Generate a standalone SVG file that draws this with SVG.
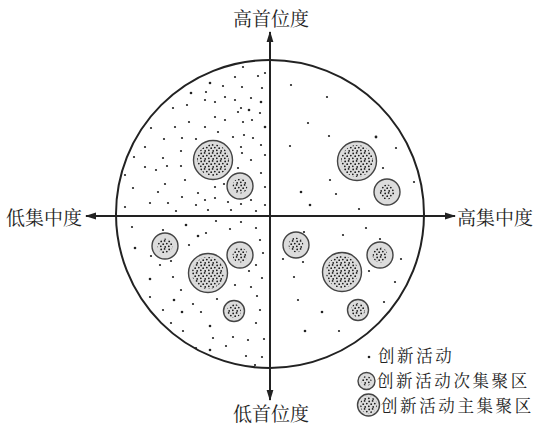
<svg xmlns="http://www.w3.org/2000/svg" width="537" height="432" viewBox="0 0 537 432">
<defs>
<style>
.lbl{font-family:"Noto Serif CJK SC","Noto Sans CJK SC",serif;font-size:19px;fill:#222}
.leg{font-family:"Noto Serif CJK SC","Noto Sans CJK SC",serif;font-size:16.5px;letter-spacing:2.6px;fill:#222}
.ax{stroke:#222;stroke-width:2;fill:none}
.clu{fill:#dcdcdc;stroke:#444;stroke-width:1.4}
.core{fill:url(#dotpat)}
#pts circle{fill:#222}
</style>
<pattern id="dotpat" patternUnits="userSpaceOnUse" width="8" height="8">
<circle cx="1.2" cy="1.4" r="0.9" fill="#1a1a1a"/>
<circle cx="4.6" cy="0.9" r="0.9" fill="#1a1a1a"/>
<circle cx="6.8" cy="3.6" r="0.9" fill="#1a1a1a"/>
<circle cx="3.2" cy="4.2" r="0.9" fill="#1a1a1a"/>
<circle cx="0.8" cy="6.3" r="0.9" fill="#1a1a1a"/>
<circle cx="5.2" cy="6.9" r="0.9" fill="#1a1a1a"/>
</pattern>
<marker id="arr" markerWidth="11" markerHeight="8" refX="10" refY="4" orient="auto-start-reverse" markerUnits="userSpaceOnUse">
<path d="M0,0.6 L11,4 L0,7.4 Z" fill="#222"/>
</marker>
</defs>
<rect width="537" height="432" fill="#fff"/>

<g id="boundary">
<circle cx="270" cy="214" r="154" fill="none" stroke="#222" stroke-width="2"/>
</g>

<g id="connectors">
<line class="ax" x1="270" y1="400" x2="270" y2="32" marker-start="url(#arr)" marker-end="url(#arr)"/>
<line class="ax" x1="86" y1="216" x2="455" y2="216" marker-start="url(#arr)" marker-end="url(#arr)"/>
</g>

<g id="pts">
<circle cx="243" cy="67" r="1.1"/><circle cx="235" cy="77" r="1.1"/><circle cx="258" cy="76" r="1.1"/><circle cx="265" cy="73" r="1.1"/>
<circle cx="210" cy="83" r="1.3"/><circle cx="223" cy="86" r="1.1"/><circle cx="242" cy="87" r="1.1"/><circle cx="191" cy="93" r="1.3"/>
<circle cx="206" cy="92" r="1.1"/><circle cx="225" cy="97" r="1.1"/><circle cx="235" cy="100" r="1.1"/><circle cx="251" cy="98" r="1.1"/>
<circle cx="261" cy="102" r="1.3"/><circle cx="262" cy="88" r="1.1"/><circle cx="205" cy="100" r="1.1"/><circle cx="173" cy="108" r="1.1"/>
<circle cx="187" cy="105" r="1.1"/><circle cx="215" cy="102" r="1.1"/><circle cx="241" cy="108" r="1.1"/><circle cx="249" cy="110" r="1.3"/>
<circle cx="238" cy="112" r="1.1"/><circle cx="260" cy="113" r="1.1"/><circle cx="215" cy="117" r="1.1"/><circle cx="225" cy="120" r="1.1"/>
<circle cx="243" cy="122" r="1.1"/><circle cx="252" cy="120" r="1.1"/><circle cx="189" cy="122" r="1.1"/><circle cx="175" cy="127" r="1.1"/>
<circle cx="151" cy="128" r="1.1"/><circle cx="205" cy="127" r="1.1"/><circle cx="218" cy="132" r="1.1"/><circle cx="265" cy="127" r="1.3"/>
<circle cx="233" cy="137" r="1.1"/><circle cx="244" cy="135" r="1.1"/><circle cx="253" cy="138" r="1.1"/><circle cx="164" cy="139" r="1.1"/>
<circle cx="182" cy="138" r="1.1"/><circle cx="196" cy="139" r="1.1"/><circle cx="145" cy="147" r="1.1"/><circle cx="181" cy="151" r="1.1"/>
<circle cx="241" cy="147" r="1.1"/><circle cx="261" cy="145" r="1.1"/><circle cx="134" cy="157" r="1.1"/><circle cx="163" cy="158" r="1.1"/>
<circle cx="242" cy="153" r="1.1"/><circle cx="251" cy="160" r="1.1"/><circle cx="265" cy="155" r="1.1"/><circle cx="145" cy="167" r="1.1"/>
<circle cx="156" cy="170" r="1.1"/><circle cx="167" cy="166" r="1.1"/><circle cx="181" cy="166" r="1.1"/><circle cx="238" cy="168" r="1.1"/>
<circle cx="261" cy="173" r="1.1"/><circle cx="125" cy="175" r="1.1"/><circle cx="185" cy="180" r="1.1"/><circle cx="165" cy="184" r="1.1"/>
<circle cx="133" cy="188" r="1.1"/><circle cx="215" cy="187" r="1.1"/><circle cx="224" cy="184" r="1.1"/><circle cx="265" cy="187" r="1.1"/>
<circle cx="158" cy="192" r="1.1"/><circle cx="198" cy="193" r="1.1"/><circle cx="182" cy="197" r="1.1"/><circle cx="215" cy="198" r="1.1"/>
<circle cx="150" cy="203" r="1.1"/><circle cx="168" cy="203" r="1.1"/><circle cx="196" cy="205" r="1.1"/><circle cx="205" cy="200" r="1.1"/>
<circle cx="228" cy="202" r="1.1"/><circle cx="241" cy="204" r="1.1"/><circle cx="251" cy="200" r="1.1"/><circle cx="265" cy="205" r="1.1"/>
<circle cx="125" cy="207" r="1.1"/><circle cx="176" cy="211" r="1.1"/><circle cx="208" cy="210" r="1.1"/><circle cx="231" cy="210" r="1.1"/>
<circle cx="256" cy="211" r="1.1"/>
<circle cx="132" cy="227" r="1.1"/><circle cx="163" cy="230" r="1.1"/><circle cx="186" cy="225" r="1.3"/><circle cx="198" cy="236" r="1.3"/>
<circle cx="206" cy="233" r="1.1"/><circle cx="216" cy="221" r="1.1"/><circle cx="230" cy="229" r="1.1"/><circle cx="241" cy="222" r="1.1"/>
<circle cx="256" cy="228" r="1.1"/><circle cx="135" cy="248" r="1.3"/><circle cx="151" cy="256" r="1.1"/><circle cx="160" cy="265" r="1.1"/>
<circle cx="189" cy="245" r="1.1"/><circle cx="171" cy="261" r="1.1"/><circle cx="260" cy="240" r="1.1"/><circle cx="263" cy="253" r="1.1"/>
<circle cx="256" cy="265" r="1.1"/><circle cx="249" cy="271" r="1.1"/><circle cx="150" cy="279" r="1.3"/><circle cx="173" cy="277" r="1.1"/>
<circle cx="262" cy="278" r="1.1"/><circle cx="181" cy="290" r="1.1"/><circle cx="235" cy="285" r="1.1"/><circle cx="251" cy="287" r="1.1"/>
<circle cx="150" cy="297" r="1.1"/><circle cx="174" cy="300" r="1.3"/><circle cx="193" cy="304" r="1.1"/><circle cx="217" cy="299" r="1.1"/>
<circle cx="257" cy="296" r="1.1"/><circle cx="163" cy="310" r="1.1"/><circle cx="182" cy="312" r="1.3"/><circle cx="201" cy="312" r="1.1"/>
<circle cx="260" cy="310" r="1.1"/><circle cx="171" cy="323" r="1.1"/><circle cx="210" cy="326" r="1.3"/><circle cx="256" cy="323" r="1.1"/>
<circle cx="183" cy="331" r="1.1"/><circle cx="213" cy="338" r="1.1"/><circle cx="233" cy="337" r="1.1"/><circle cx="248" cy="340" r="1.1"/>
<circle cx="264" cy="339" r="1.1"/><circle cx="196" cy="348" r="1.1"/><circle cx="210" cy="350" r="1.3"/><circle cx="226" cy="346" r="1.1"/>
<circle cx="246" cy="356" r="1.1"/><circle cx="262" cy="357" r="1.1"/><circle cx="255" cy="365" r="1.1"/>
<circle cx="291" cy="85" r="1.1"/><circle cx="327" cy="97" r="1.1"/><circle cx="308" cy="123" r="1.1"/><circle cx="329" cy="136" r="1.1"/>
<circle cx="290" cy="146" r="1.1"/><circle cx="376" cy="137" r="1.4"/><circle cx="396" cy="148" r="1.1"/><circle cx="383" cy="168" r="1.1"/>
<circle cx="330" cy="180" r="1.1"/><circle cx="414" cy="182" r="1.1"/><circle cx="301" cy="192" r="1.3"/><circle cx="336" cy="194" r="1.1"/>
<circle cx="310" cy="205" r="1.3"/><circle cx="359" cy="209" r="1.1"/>
<circle cx="304" cy="232" r="1.1"/><circle cx="343" cy="235" r="1.1"/><circle cx="366" cy="228" r="1.1"/><circle cx="380" cy="239" r="1.1"/>
<circle cx="283" cy="259" r="1.1"/><circle cx="303" cy="262" r="1.1"/><circle cx="401" cy="259" r="1.1"/><circle cx="369" cy="271" r="1.1"/>
<circle cx="294" cy="277" r="1.1"/><circle cx="395" cy="282" r="1.1"/><circle cx="298" cy="300" r="1.1"/><circle cx="322" cy="312" r="1.3"/>
<circle cx="384" cy="302" r="1.1"/><circle cx="305" cy="331" r="1.3"/><circle cx="339" cy="331" r="1.1"/>
</g>

<g id="cluster-tl-main"><circle class="clu" cx="213" cy="160" r="19.5"/><circle class="core" cx="213" cy="160" r="16"/></g>
<g id="cluster-tl-sub"><circle class="clu" cx="240" cy="186" r="13"/><circle class="core" cx="240" cy="186" r="7.5"/></g>
<g id="cluster-tr-main"><circle class="clu" cx="357" cy="161" r="19.5"/><circle class="core" cx="357" cy="161" r="16"/></g>
<g id="cluster-tr-sub"><circle class="clu" cx="387" cy="192" r="13"/><circle class="core" cx="387" cy="192" r="7.5"/></g>
<g id="cluster-bl-sub1"><circle class="clu" cx="165" cy="246" r="13"/><circle class="core" cx="165" cy="246" r="7.5"/></g>
<g id="cluster-bl-main"><circle class="clu" cx="208" cy="273" r="19.5"/><circle class="core" cx="208" cy="273" r="16"/></g>
<g id="cluster-bl-sub2"><circle class="clu" cx="240" cy="255" r="13"/><circle class="core" cx="240" cy="255" r="7.5"/></g>
<g id="cluster-bl-sub3"><circle class="clu" cx="234" cy="311" r="10.5"/><circle class="core" cx="234" cy="311" r="7"/></g>
<g id="cluster-br-sub1"><circle class="clu" cx="296" cy="245" r="13"/><circle class="core" cx="296" cy="245" r="7.5"/></g>
<g id="cluster-br-main"><circle class="clu" cx="342" cy="272" r="19.5"/><circle class="core" cx="342" cy="272" r="16"/></g>
<g id="cluster-br-sub2"><circle class="clu" cx="380" cy="255" r="13"/><circle class="core" cx="380" cy="255" r="7.5"/></g>
<g id="cluster-br-sub3"><circle class="clu" cx="358" cy="310" r="10.5"/><circle class="core" cx="358" cy="310" r="7"/></g>

<g id="label-top"><text class="lbl" x="271" y="26" text-anchor="middle">高首位度</text></g>
<g id="label-bottom"><text class="lbl" x="271" y="421" text-anchor="middle">低首位度</text></g>
<g id="label-left"><text class="lbl" x="6" y="225">低集中度</text></g>
<g id="label-right"><text class="lbl" x="457" y="225">高集中度</text></g>

<g id="legend">
<circle cx="369" cy="357" r="1.3" fill="#222"/>
<text class="leg" x="378" y="362">创新活动</text>
<circle class="clu" cx="366.5" cy="381" r="8.5"/><circle class="core" cx="366.5" cy="381" r="5"/>
<text class="leg" x="377" y="387">创新活动次集聚区</text>
<circle class="clu" cx="368.5" cy="405" r="11"/><circle class="core" cx="368.5" cy="405" r="8.5"/>
<text class="leg" x="381" y="412">创新活动主集聚区</text>
</g>
</svg>
